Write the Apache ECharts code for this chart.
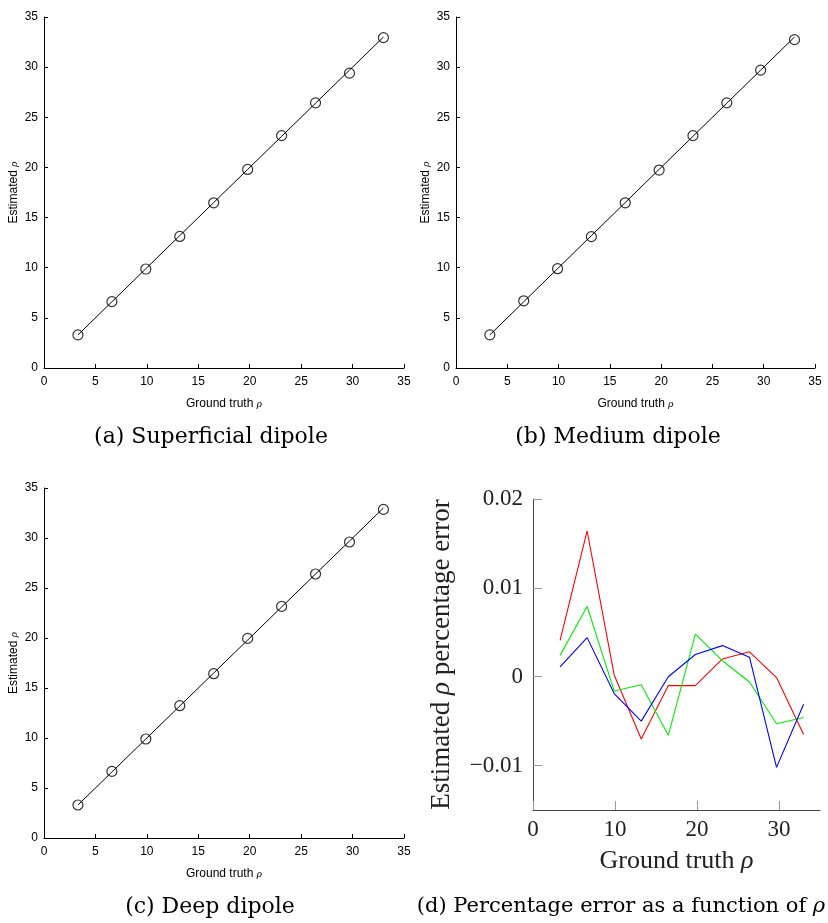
<!DOCTYPE html>
<html><head><meta charset="utf-8">
<script src="https://cdn.jsdelivr.net/npm/echarts@6/dist/echarts.min.js"></script>
<style>html,body{margin:0;padding:0;background:#fff}#c{width:828px;height:923px}</style>
</head><body><div id="c"></div>
<script>
// Ground truth rho values
const groundTruth = [3.3, 6.6, 9.9, 13.2, 16.5, 19.8, 23.1, 26.4, 29.7, 33.0];
// Estimated rho
const estSuperficial = [3.30, 6.62, 9.87, 13.12, 16.47, 19.80, 23.17, 26.44, 29.40, 32.94];
const estMedium      = [3.30, 6.70, 9.90, 13.10, 16.47, 19.74, 23.17, 26.44, 29.70, 32.74];
const estDeep        = [3.30, 6.66, 9.90, 13.23, 16.43, 19.96, 23.16, 26.40, 29.60, 32.86];
// Percentage error
const errRed   = [0.0041, 0.0164, 0.0002, -0.0070, -0.0010, -0.0010, 0.0020, 0.0028, -0.0001, -0.0065];
const errGreen = [0.0024, 0.0079, -0.0016, -0.0009, -0.0066, 0.0048, 0.0018, -0.0006, -0.0053, -0.0046];
const errBlue  = [0.0011, 0.0044, -0.0019, -0.0050, 0.0000, 0.0025, 0.0035, 0.0022, -0.0102, -0.0031];
// Tick labels
const ticksDx = [0, 10, 20, 30];
const ticksDy = [-0.01, 0, 0.01, 0.02];
const captions = ['(a) Superficial dipole', '(b) Medium dipole', '(c) Deep dipole', '(d) Percentage error as a function of '];

const sans = 'Liberation Sans';
const serif = 'Liberation Serif';
const capFont = 'DejaVu Serif';

const grids = [
  {left: 44, top: 17, width: 360, height: 351},
  {left: 456, top: 17, width: 359, height: 351},
  {left: 44, top: 488, width: 360, height: 350},
  {left: 533, top: 499, width: 287, height: 311}
];

function acX(i){
  return {
    type: 'value', gridIndex: i, min: 0, max: 35, interval: 5,
    axisLine: {show: true, onZero: false, lineStyle: {color: '#000', width: 1}},
    axisTick: {show: true, inside: true, length: 4, lineStyle: {color: '#000'}},
    axisLabel: {fontFamily: sans, fontSize: 12, color: '#000', margin: 8},
    splitLine: {show: false},
    name: '{n|Ground truth }{r|ρ}', nameLocation: 'middle', nameGap: 30,
    nameTextStyle: {rich: {n: {fontFamily: sans, fontSize: 12, color: '#000'}, r: {fontFamily: serif, fontStyle: 'italic', fontSize: 11, color: '#000'}}}
  };
}
function acY(i){
  return {
    type: 'value', gridIndex: i, min: 0, max: 35, interval: 5,
    axisLine: {show: true, onZero: false, lineStyle: {color: '#000', width: 1}},
    axisTick: {show: true, inside: true, length: 4, lineStyle: {color: '#000'}},
    axisLabel: {fontFamily: sans, fontSize: 12, color: '#000', margin: 6},
    splitLine: {show: false},
    name: '{n|Estimated }{r|ρ}', nameLocation: 'middle', nameGap: 24, nameRotate: 90,
    nameTextStyle: {rich: {n: {fontFamily: sans, fontSize: 12, color: '#000'}, r: {fontFamily: serif, fontStyle: 'italic', fontSize: 11, color: '#000'}}}
  };
}

const xAxes = [acX(0), acX(1), acX(2), {
  type: 'value', gridIndex: 3, min: 0, max: 35,
  axisLine: {show: true, onZero: false, lineStyle: {color: '#444', width: 1}},
  axisTick: {show: true, inside: true, length: 9, customValues: ticksDx, lineStyle: {color: '#999'}},
  axisLabel: {fontFamily: serif, fontSize: 23, color: '#222', margin: 8, customValues: ticksDx},
  splitLine: {show: false},
  name: '{n|Ground truth }{r|ρ}', nameLocation: 'middle', nameGap: 38,
  nameTextStyle: {rich: {n: {fontFamily: serif, fontSize: 26, color: '#222'}, r: {fontFamily: serif, fontStyle: 'italic', fontSize: 26, color: '#222'}}}
}];
const yAxes = [acY(0), acY(1), acY(2), {
  type: 'value', gridIndex: 3, min: -0.015, max: 0.02,
  axisLine: {show: true, onZero: false, lineStyle: {color: '#444', width: 1}},
  axisTick: {show: true, inside: true, length: 9, customValues: ticksDy, lineStyle: {color: '#999'}},
  axisLabel: {fontFamily: serif, fontSize: 23, color: '#222', margin: 10, customValues: ticksDy,
    formatter: v => { const r = Math.round(v * 1000) / 1000; return r === 0 ? '0' : (r < 0 ? '\u2212' + String(-r) : String(r)); }},
  splitLine: {show: false},
  name: '{n|Estimated }{r|ρ}{n| percentage error}', nameLocation: 'middle', nameGap: 78, nameRotate: 90,
  nameTextStyle: {rich: {n: {fontFamily: serif, fontSize: 27, color: '#222'}, r: {fontFamily: serif, fontStyle: 'italic', fontSize: 27, color: '#222'}}}
}];

function pairs(xs, ys){ return xs.map((x, k) => [x, ys[k]]); }

const series = [];
[estSuperficial, estMedium, estDeep].forEach((est, i) => {
  series.push({type: 'line', xAxisIndex: i, yAxisIndex: i, data: pairs(groundTruth, groundTruth), symbol: 'none',
    lineStyle: {color: '#000', width: 1}, silent: true, animation: false, z: 2});
  series.push({type: 'scatter', xAxisIndex: i, yAxisIndex: i, data: pairs(groundTruth, est), symbol: 'circle', symbolSize: 10,
    itemStyle: {color: 'rgba(0,0,0,0)', borderColor: '#000', borderWidth: 1.2}, animation: false, z: 3});
});
[[errRed, '#ff0000'], [errGreen, '#00ee00'], [errBlue, '#0000ff']].forEach(([d, c]) => {
  series.push({type: 'line', xAxisIndex: 3, yAxisIndex: 3, data: pairs(groundTruth, d), symbol: 'none',
    lineStyle: {color: c, width: 1.1}, animation: false});
});

const capPos = [[211, 437], [618, 437], [210, 907], [621, 907]];
const graphic = captions.map((t, i) => ({
  type: 'text', x: capPos[i][0], y: capPos[i][1],
  style: {text: i === 3 ? t + '{r|ρ}' : t, textAlign: 'center', textVerticalAlign: 'middle',
    font: (i === 3 ? '21px' : '22px') + ' "DejaVu Serif"', fill: '#000',
    rich: {r: {fontFamily: capFont, fontStyle: 'italic', fontSize: 21, fill: '#000'}}}
}));

const chart = echarts.init(document.getElementById('c'), null, {renderer: 'canvas'});
chart.setOption({
  backgroundColor: '#fff', animation: false,
  grid: grids, xAxis: xAxes, yAxis: yAxes, series: series, graphic: graphic
});
</script></body></html>
